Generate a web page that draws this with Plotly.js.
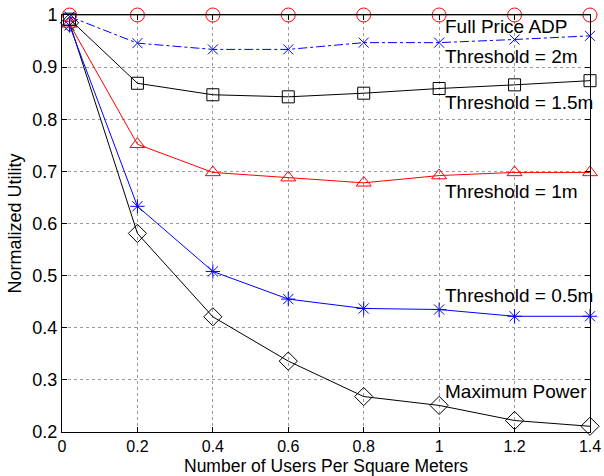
<!DOCTYPE html>
<html>
<head>
<meta charset="utf-8">
<script src="https://cdn.plot.ly/plotly-3.0.1.min.js"></script>
<style>html,body{margin:0;padding:0;background:#fff;}#chart{width:604px;height:476px;}</style>
</head>
<body>
<div id="chart"></div>
<script>
// Data
const density = [0.02, 0.2, 0.4, 0.6, 0.8, 1.0, 1.2, 1.4];
const fullPriceADP = [1.0, 1.0, 1.0, 1.0, 1.0, 1.0, 1.0, 1.0];
const threshold2m = [0.997, 0.946, 0.934, 0.934, 0.947, 0.947, 0.953, 0.960];
const threshold15m = [0.992, 0.869, 0.847, 0.843, 0.850, 0.859, 0.866, 0.874];
const threshold1m = [0.983, 0.752, 0.698, 0.688, 0.678, 0.692, 0.698, 0.698];
const threshold05m = [0.980, 0.633, 0.508, 0.455, 0.437, 0.435, 0.422, 0.422];
const maximumPower = [0.985, 0.581, 0.421, 0.336, 0.268, 0.251, 0.222, 0.211];
const seriesLabels = ["Full Price ADP", "Threshold = 2m", "Threshold = 1.5m", "Threshold = 1m", "Threshold = 0.5m", "Maximum Power"];
const xTicks = [0, 0.2, 0.4, 0.6, 0.8, 1, 1.2, 1.4];
const xTickText = ["0", "0.2", "0.4", "0.6", "0.8", "1", "1.2", "1.4"];
const yTicks = [0.2, 0.3, 0.4, 0.5, 0.6, 0.7, 0.8, 0.9, 1];
const yTickText = ["0.2", "0.3", "0.4", "0.5", "0.6", "0.7", "0.8", "0.9", "1"];
const xTitle = "Number of Users Per Square Meters";
const yTitle = "Normalized Utility";

const FONT = "Liberation Sans, Arial, Helvetica, sans-serif";

function tr(y, color, symbol, size, dash) {
  return {
    x: density, y: y, type: "scatter", mode: "lines+markers",
    line: {color: color, width: 1, dash: dash || "solid"},
    marker: {symbol: symbol, size: size, color: color, line: {color: color, width: 1}},
    cliponaxis: false, showlegend: false, hoverinfo: "skip"
  };
}

const traces = [
  tr(maximumPower, "#000000", "diamond-open", 14),
  tr(threshold05m, "#0000ff", "asterisk-open", 12),
  tr(threshold1m, "#ff0000", "triangle-up-open", 13),
  tr(threshold15m, "#000000", "square-open", 12),
  tr(threshold2m, "#0000ff", "x-thin-open", 10, "dashdot"),
  tr(fullPriceADP, "#ff0000", "circle-open", 14)
];

// label anchor positions (layout)
const labelY = [0.978, 0.920, 0.833, 0.662, 0.462, 0.278];
const annotations = seriesLabels.map((t, i) => ({
  x: 1.011, y: labelY[i], xref: "x", yref: "y", text: t, showarrow: false,
  xanchor: "left", yanchor: "middle", font: {family: FONT, size: 19, color: "#000"}
}));
// x axis title placed at bottom of the page
annotations.push({
  x: 0.5, y: -44 / 417, xref: "paper", yref: "paper", text: xTitle, showarrow: false,
  xanchor: "center", yanchor: "bottom", borderpad: 0, yshift: -1,
  font: {family: FONT, size: 17.5, color: "#000"}
});

const axisCommon = {
  showline: true, linecolor: "#000", linewidth: 1, mirror: "ticks",
  ticks: "inside", ticklen: 5, tickcolor: "#000", tickwidth: 1,
  showgrid: true, gridcolor: "#9a9a9a", griddash: "dot", gridwidth: 1,
  zeroline: false, tickfont: {family: FONT, size: 18, color: "#000"}
};

const layout = {
  width: 604, height: 476,
  margin: {l: 62, r: 14, t: 15, b: 44},
  paper_bgcolor: "#fff", plot_bgcolor: "#fff",
  xaxis: Object.assign({}, axisCommon, {
    range: [0, 1.4], tickvals: xTicks, ticktext: xTickText,
    tickfont: {family: FONT, size: 16, color: "#000"}
  }),
  yaxis: Object.assign({}, axisCommon, {
    range: [0.2, 1], tickvals: yTicks, ticktext: yTickText,
    title: {text: yTitle, font: {family: FONT, size: 18, color: "#000"}, standoff: 6}
  }),
  annotations: annotations,
  showlegend: false
};

Plotly.newPlot("chart", traces, layout, {staticPlot: true});
</script>
</body>
</html>
